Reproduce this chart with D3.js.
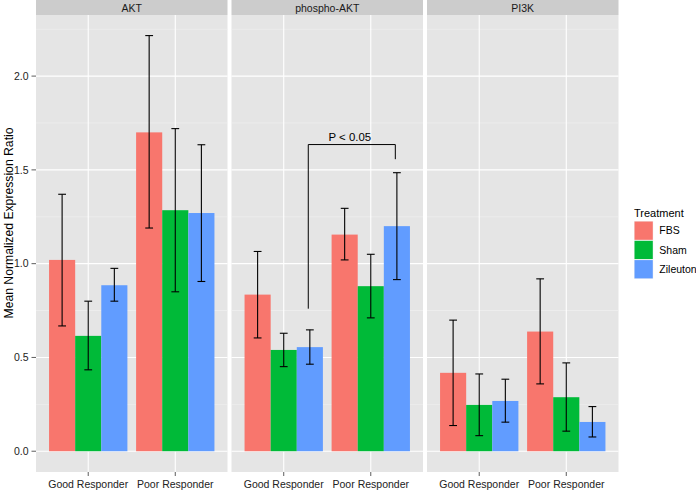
<!DOCTYPE html>
<html>
<head>
<meta charset="utf-8">
<script src="https://cdn.jsdelivr.net/npm/d3@7"></script>
<style>
  html, body { margin: 0; padding: 0; background: #fff; }
  svg { display: block; font-family: "Liberation Sans", Arial, Helvetica, sans-serif; }
</style>
</head>
<body>
<svg id="chart" width="696" height="490"></svg>
<script>
// ---- Data ----
const panels = ["AKT", "phospho-AKT", "PI3K"];
const responders = ["Good Responder", "Poor Responder"];
const treatments = ["FBS", "Sham", "Zileuton"];
const colors = ["#F8766D", "#00BA38", "#619CFF"];
const yTicks = [0.0, 0.5, 1.0, 1.5, 2.0];
const yTickLabels = ["0.0", "0.5", "1.0", "1.5", "2.0"];

// means[panel][responder][treatment]
const meanAKT     = [[1.02, 0.615, 0.885], [1.70, 1.285, 1.27]];
const meanPhospho = [[0.835, 0.54, 0.555], [1.155, 0.88, 1.20]];
const meanPI3K    = [[0.418, 0.247, 0.268], [0.638, 0.288, 0.156]];
// error bar lower / upper
const lowAKT      = [[0.668, 0.434, 0.80], [1.19, 0.85, 0.905]];
const highAKT     = [[1.37, 0.80, 0.975], [2.216, 1.72, 1.634]];
const lowPhospho  = [[0.604, 0.451, 0.464], [1.02, 0.711, 0.915]];
const highPhospho = [[1.065, 0.629, 0.647], [1.295, 1.05, 1.485]];
const lowPI3K     = [[0.137, 0.083, 0.155], [0.359, 0.107, 0.076]];
const highPI3K    = [[0.699, 0.412, 0.384], [0.919, 0.471, 0.238]];

const means = [meanAKT, meanPhospho, meanPI3K];
const lows = [lowAKT, lowPhospho, lowPI3K];
const highs = [highAKT, highPhospho, highPI3K];

// significance annotation (phospho-AKT, Zileuton, Good vs Poor)
const annotation = { panel: "phospho-AKT", treatment: "Zileuton", from: "Good Responder", to: "Poor Responder",
                     yTop: 1.635, yLeft: 0.76, yRight: 1.557, label: "P < 0.05" };

const rows = [];
panels.forEach((p, pi) => responders.forEach((r, ri) => treatments.forEach((t, ti) => {
  rows.push({ panel: p, responder: r, treatment: t, ti,
              mean: means[pi][ri][ti], lo: lows[pi][ri][ti], hi: highs[pi][ri][ti] });
})));

// ---- Layout ----
const svg = d3.select("#chart");
const plotLeft = 36, panelW = 191.5, panelGap = 4;
const stripTop = 0, stripH = 15, panelTop = 15, panelBottom = 472;
const font = 10.5;

const y = d3.scaleLinear().domain([-0.11075, 2.32575]).range([panelBottom, panelTop]);
const xPanel = d3.scaleOrdinal().domain(panels).range(panels.map((p, i) => plotLeft + i * (panelW + panelGap)));
const xCat = d3.scaleBand().domain(responders).range([0, panelW]).paddingInner(0.1).paddingOuter(0.15);
const xTreat = d3.scaleBand().domain(treatments).range([0, xCat.bandwidth()]).padding(0);
const color = d3.scaleOrdinal().domain(treatments).range(colors);

const minorTicks = [-0.25, 0.25, 0.75, 1.25, 1.75, 2.25].filter(v => v > y.domain()[0] && v < y.domain()[1]);

panels.forEach(p => {
  const g = svg.append("g").attr("transform", `translate(${xPanel(p)},0)`);
  // strip
  g.append("rect").attr("x", 0).attr("y", stripTop).attr("width", panelW).attr("height", stripH).attr("fill", "#CCCCCC");
  g.append("text").attr("x", panelW / 2).attr("y", 11.5).attr("text-anchor", "middle")
    .attr("font-size", font).attr("fill", "#1A1A1A").text(p);
  // panel bg
  g.append("rect").attr("x", 0).attr("y", panelTop).attr("width", panelW).attr("height", panelBottom - panelTop).attr("fill", "#E5E5E5");
  // minor grid
  g.selectAll("line.minor").data(minorTicks).join("line")
    .attr("x1", 0).attr("x2", panelW).attr("y1", d => y(d)).attr("y2", d => y(d))
    .attr("stroke", "#F2F2F2").attr("stroke-width", 0.6);
  // major grid
  g.selectAll("line.majy").data(yTicks).join("line")
    .attr("x1", 0).attr("x2", panelW).attr("y1", d => y(d)).attr("y2", d => y(d))
    .attr("stroke", "#FFFFFF").attr("stroke-width", 1.1);
  g.selectAll("line.majx").data(responders).join("line")
    .attr("x1", d => xCat(d) + xCat.bandwidth() / 2).attr("x2", d => xCat(d) + xCat.bandwidth() / 2)
    .attr("y1", panelTop).attr("y2", panelBottom)
    .attr("stroke", "#FFFFFF").attr("stroke-width", 1.1);

  const pr = rows.filter(d => d.panel === p);
  // bars
  g.selectAll("rect.bar").data(pr).join("rect")
    .attr("x", d => xCat(d.responder) + xTreat(d.treatment))
    .attr("width", xTreat.bandwidth())
    .attr("y", d => y(d.mean))
    .attr("height", d => y(0) - y(d.mean))
    .attr("fill", d => color(d.treatment));
  // error bars
  const capHalf = 3.9;
  const eb = g.selectAll("g.eb").data(pr).join("g")
    .attr("transform", d => `translate(${xCat(d.responder) + xTreat(d.treatment) + xTreat.bandwidth() / 2},0)`);
  eb.append("line").attr("x1", 0).attr("x2", 0).attr("y1", d => y(d.lo)).attr("y2", d => y(d.hi))
    .attr("stroke", "#000").attr("stroke-width", 1.1);
  eb.append("line").attr("x1", -capHalf).attr("x2", capHalf).attr("y1", d => y(d.lo)).attr("y2", d => y(d.lo))
    .attr("stroke", "#000").attr("stroke-width", 1.1);
  eb.append("line").attr("x1", -capHalf).attr("x2", capHalf).attr("y1", d => y(d.hi)).attr("y2", d => y(d.hi))
    .attr("stroke", "#000").attr("stroke-width", 1.1);

  // x axis ticks + labels
  responders.forEach(r => {
    const cx = xCat(r) + xCat.bandwidth() / 2;
    g.append("line").attr("x1", cx).attr("x2", cx).attr("y1", panelBottom).attr("y2", panelBottom + 4)
      .attr("stroke", "#333").attr("stroke-width", 0.8);
    g.append("text").attr("x", cx).attr("y", panelBottom + 15.5).attr("text-anchor", "middle")
      .attr("font-size", font).attr("fill", "#222").text(r);
  });

  // annotation
  if (p === annotation.panel) {
    const off = xTreat(annotation.treatment) + xTreat.bandwidth() * 0.44;
    const x1 = xCat(annotation.from) + off, x2 = xCat(annotation.to) + off;
    g.append("path")
      .attr("d", `M${x1},${y(annotation.yLeft)}V${y(annotation.yTop)}H${x2}V${y(annotation.yRight)}`)
      .attr("fill", "none").attr("stroke", "#000").attr("stroke-width", 1);
    g.append("text").attr("x", (x1 + x2) / 2 - 2).attr("y", y(annotation.yTop) - 4)
      .attr("text-anchor", "middle").attr("font-size", 11.4).attr("fill", "#000").text(annotation.label);
  }
});

// y axis
const yAxisG = svg.append("g");
yTicks.forEach((v, i) => {
  yAxisG.append("line").attr("x1", plotLeft - 4.5).attr("x2", plotLeft).attr("y1", y(v)).attr("y2", y(v))
    .attr("stroke", "#333").attr("stroke-width", 0.8);
  yAxisG.append("text").attr("x", plotLeft - 7.5).attr("y", y(v)).attr("dy", "0.35em")
    .attr("text-anchor", "end").attr("font-size", font).attr("fill", "#222").text(yTickLabels[i]);
});
svg.append("text").attr("transform", "translate(12.5,223) rotate(-90)")
  .attr("text-anchor", "middle").attr("font-size", 12.2).attr("fill", "#000")
  .text("Mean Normalized Expression Ratio");

// legend
const lg = svg.append("g").attr("transform", "translate(634,0)");
lg.append("text").attr("x", 0).attr("y", 216.5).attr("font-size", 11).attr("fill", "#000").text("Treatment");
treatments.forEach((t, i) => {
  const ky = 221 + i * 19.3;
  lg.append("rect").attr("x", 0).attr("y", ky).attr("width", 19.3).attr("height", 19.3).attr("fill", "#F2F2F2");
  lg.append("rect").attr("x", 0.5).attr("y", ky + 0.5).attr("width", 18.3).attr("height", 18.3).attr("fill", color(t));
  lg.append("text").attr("x", 25.3).attr("y", ky + 9.65).attr("dy", "0.35em")
    .attr("font-size", font).attr("fill", "#000").text(t);
});
</script>
</body>
</html>
